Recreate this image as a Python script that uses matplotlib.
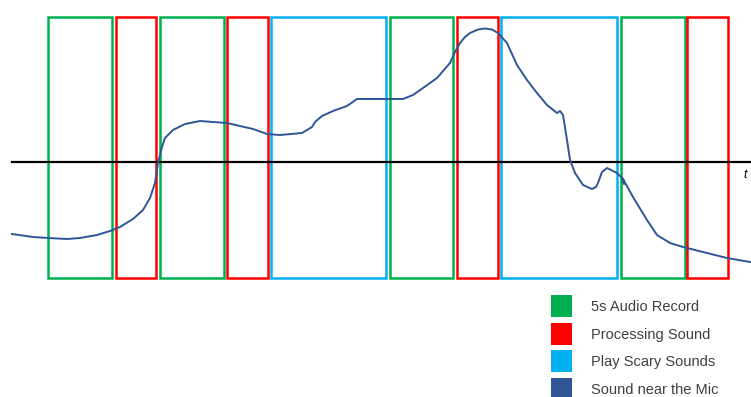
import matplotlib
matplotlib.use("Agg")
import matplotlib.pyplot as plt
from matplotlib.patches import Rectangle

# phase boxes: (start, end, kind) in picture units
box_start = [48, 116, 160, 227, 271, 390, 457, 501, 621, 687]
box_end = [112, 156, 224, 268, 386, 453, 498, 617, 685, 728]
box_kind = ["rec", "proc", "rec", "proc", "play", "rec", "proc", "play", "rec", "proc"]
box_top, box_bottom = 17, 278

# sound level curve (y grows downward)
curve_x = [12, 33, 48, 67, 80, 97, 110, 120, 133, 143, 150, 155, 158, 162, 165, 173,
           185, 200, 213, 227, 240, 253, 267, 280, 302, 312, 315, 322, 333, 347, 357,
           370, 403, 413, 423, 437, 450, 455, 460, 465, 470, 478, 485, 492, 498, 507, 517, 527, 537,
           547, 557, 560, 563, 567, 570, 575, 583, 592, 596, 598, 602, 607, 617, 622, 624,
           623, 633, 647, 657, 670, 683, 703, 727, 750]
curve_y = [234, 237, 238, 239, 238, 235, 231, 227, 219, 210, 198, 183, 163, 147, 138, 130,
           124, 121, 122, 123, 126, 129, 134, 135, 133, 127, 122, 116, 111, 106, 99,
           99, 99, 95, 88, 78, 63, 52, 43, 37, 33, 29.5, 28.5, 29.5, 33, 43, 65, 80, 93,
           105, 113, 111, 115, 140, 160, 173, 185, 189, 187, 183, 172, 168, 173, 178, 184,
           179, 197, 220, 235, 243, 247, 252, 258, 262]

axis_y = 161.5

labels = ["5s Audio Record", "Processing Sound", "Play Scary Sounds", "Sound near the Mic"]
colors = {"rec": "#00B050", "proc": "#FF0000", "play": "#00B0F0", "mic": "#2F5597"}
legend_keys = ["rec", "proc", "play", "mic"]

fig = plt.figure(figsize=(7.51, 3.97), dpi=100)
ax = fig.add_axes([0, 0, 1, 1])
ax.set_xlim(0, 751)
ax.set_ylim(397, 0)
ax.axis("off")

for s, e, k in zip(box_start, box_end, box_kind):
    ax.add_patch(Rectangle((s, box_top), e - s, box_bottom - box_top, fill=False,
                           edgecolor=colors[k], linewidth=1.8, zorder=2))

ax.plot([12, 751], [axis_y, axis_y], color="black", linewidth=1.6, zorder=3)
ax.plot(curve_x, curve_y, color=colors["mic"], linewidth=1.4, zorder=4)
ax.text(745, 175, "t", fontstyle="italic", fontsize=9, ha="center", va="center",
        family="Liberation Sans")

for i, (lab, k) in enumerate(zip(labels, legend_keys)):
    y0 = 295 + i * 27.5
    ax.add_patch(Rectangle((551, y0), 21, 22, facecolor=colors[k], edgecolor="none"))
    ax.text(591, y0 + 12, lab, fontsize=10.5, va="center", ha="left", color="#404040",
            family="Liberation Sans")

fig.savefig("out.png", dpi=100)
